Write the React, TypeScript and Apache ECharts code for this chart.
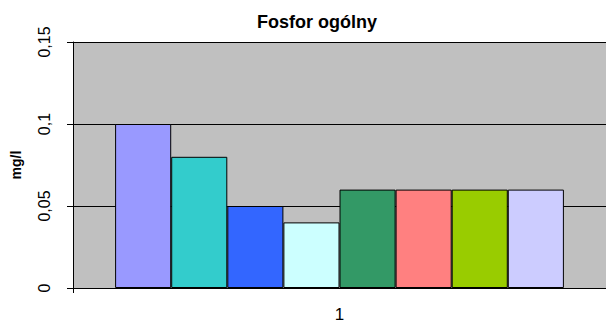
import React, { useEffect, useRef } from "react";
import * as echarts from "echarts";

const categories = ["1"];
const seriesValues = [0.1, 0.08, 0.05, 0.04, 0.06, 0.06, 0.06, 0.06];
const seriesColors = ["#9999FF", "#33CCCC", "#3366FF", "#CCFFFF", "#339966", "#FF8080", "#99CC00", "#CCCCFF"];
const yTicks = [0, 0.05, 0.1, 0.15];

export default function App() {
  const ref = useRef<HTMLDivElement>(null);
  useEffect(() => {
    if (!ref.current) return;
    const chart = echarts.init(ref.current, undefined, { renderer: "svg" });
    const font = "Liberation Sans, Arial, sans-serif";
    chart.setOption({
      animation: false,
      backgroundColor: "#ffffff",
      title: {
        text: "Fosfor ogólny",
        left: 312,
        textAlign: "center",
        top: 8,
        textStyle: { fontFamily: font, fontSize: 18, fontWeight: "bold", color: "#000" },
      },
      grid: { left: 73, right: 0, top: 42, bottom: 38, backgroundColor: "#C0C0C0", show: true, borderWidth: 0 },
      xAxis: {
        type: "category",
        data: categories,
        axisLine: { show: true, lineStyle: { color: "#000", width: 1 } },
        axisTick: { show: true, alignWithLabel: false, length: 5, lineStyle: { color: "#000" } },
        axisLabel: { fontFamily: font, fontSize: 17, color: "#000", margin: 18 },
      },
      yAxis: {
        type: "value",
        min: yTicks[0],
        max: yTicks[yTicks.length - 1],
        interval: 0.05,
        name: "mg/l",
        nameLocation: "middle",
        nameGap: 50,
        nameRotate: 90,
        nameTextStyle: { fontFamily: font, fontSize: 14, fontWeight: "bold", color: "#000" },
        axisLine: { show: true, lineStyle: { color: "#000", width: 1 } },
        axisTick: { show: true, length: 6, lineStyle: { color: "#000" } },
        splitLine: { show: true, lineStyle: { color: "#000", width: 1 } },
        axisLabel: {
          fontFamily: font,
          fontSize: 16,
          color: "#000",
          rotate: 90,
          margin: 21,
          formatter: (v: number) => String(Math.round(v * 100) / 100).replace(".", ","),
        },
      },
      series: seriesValues.map((v, i) => ({
        type: "bar",
        name: String(i + 1),
        data: [v],
        barGap: "0%",
        barCategoryGap: "15.8%",
        itemStyle: { color: seriesColors[i], borderColor: "#000", borderWidth: 1 },
      })),
    });
    return () => chart.dispose();
  }, []);
  return <div ref={ref} style={{ width: 606, height: 326, position: "absolute", left: 0, top: 0 }} />;
}
